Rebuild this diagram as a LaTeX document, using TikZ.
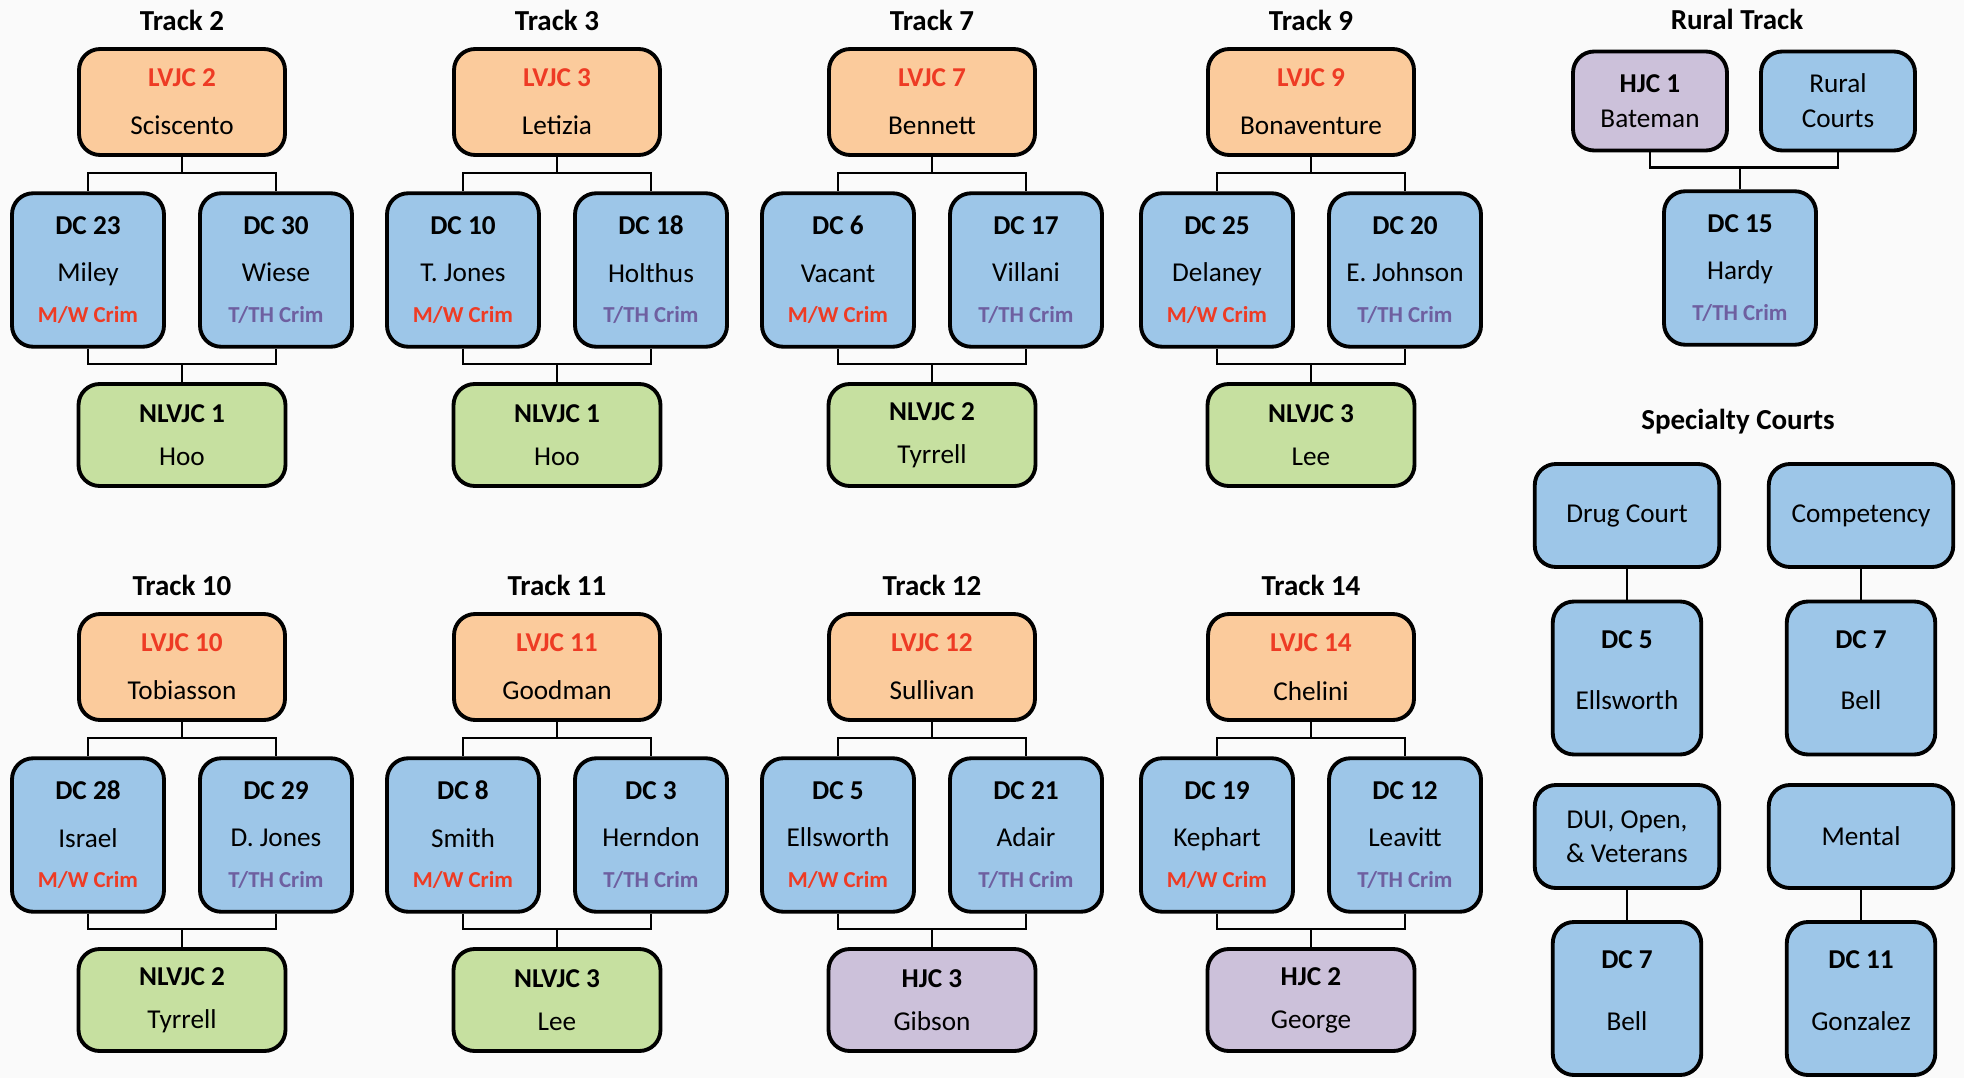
\documentclass[tikz,border=0pt]{standalone}
\usepackage{fontspec}
\setmainfont{Carlito}
\usepackage{xcolor}
\usetikzlibrary{positioning}

\definecolor{lvorange}{HTML}{FBCB9C}
\definecolor{dcblue}{HTML}{9DC6E8}
\definecolor{nlgreen}{HTML}{C6E0A0}
\definecolor{hjpurple}{HTML}{CCC1DA}
\definecolor{mwred}{HTML}{EE3B24}
\definecolor{ttpurple}{HTML}{6E5FA0}
\definecolor{paper}{HTML}{FAFAFA}

\newcommand{\mwcrim}{{\fontsize{13}{13}\selectfont\bfseries\color{mwred}M/W Crim}}
\newcommand{\tthcrim}{{\fontsize{13}{13}\selectfont\bfseries\color{ttpurple}T/TH Crim}}

\begin{document}
\begin{tikzpicture}[x=0.02cm, y=-0.02cm,
  court/.style={draw, line width=2.2pt, rounded corners=12pt, align=center, inner sep=0pt},
  lvjc/.style={court, fill=lvorange, minimum width=4.12cm, minimum height=2.12cm, font=\fontsize{15.5}{27.5}\selectfont},
  dc/.style={court, fill=dcblue, minimum width=3.04cm, minimum height=3.07cm, font=\fontsize{15.5}{27}\selectfont},
  nlvjc/.style={court, minimum width=4.14cm, minimum height=2.04cm, font=\fontsize{15.5}{24.5}\selectfont},
  ruralbox/.style={court, minimum width=3.08cm, minimum height=1.98cm, font=\fontsize{15.5}{20}\selectfont},
  spechead/.style={court, fill=dcblue, minimum width=3.69cm, minimum height=2.06cm, font=\fontsize{15.5}{19.5}\selectfont},
  specdc/.style={court, fill=dcblue, minimum width=2.97cm, minimum height=3.06cm, text depth=9pt, font=\fontsize{15.5}{35}\selectfont},
  tracktitle/.style={font=\fontsize{16.5}{18}\selectfont\bfseries},
  link/.style={line width=1.3pt}]

% page
\fill[paper] (0,0) rectangle (1964,1078);
\useasboundingbox (0,0) rectangle (1964,1078);

% Tracks
\foreach \tx/\ty/\tn/\lvname/\da/\daname/\db/\dbname/\bfill/\botid/\botname in {
  182/0/2/Sciscento/23/Miley/30/Wiese/nlgreen/NLVJC 1/Hoo,
  557/0/3/Letizia/10/T. Jones/18/Holthus/nlgreen/NLVJC 1/Hoo,
  932/0/7/Bennett/6/Vacant/17/Villani/nlgreen/NLVJC 2/Tyrrell,
  1311/0/9/Bonaventure/25/Delaney/20/E. Johnson/nlgreen/NLVJC 3/Lee,
  182/565/10/Tobiasson/28/Israel/29/D. Jones/nlgreen/NLVJC 2/Tyrrell,
  557/565/11/Goodman/8/Smith/3/Herndon/nlgreen/NLVJC 3/Lee,
  932/565/12/Sullivan/5/Ellsworth/21/Adair/hjpurple/HJC 3/Gibson,
  1311/565/14/Chelini/19/Kephart/12/Leavitt/hjpurple/HJC 2/George}
{
  \node[tracktitle] (title\tn) at (\tx, \ty+20) {Track \tn};
  \node[lvjc] (lv\tn) at (\tx, \ty+102) {{\bfseries\color{mwred}LVJC \tn}\\\lvname};
  \node[dc] (dcl\tn) at (\tx-94, \ty+270) {\textbf{DC \da}\\\daname\\[-4pt]\mwcrim};
  \node[dc] (dcr\tn) at (\tx+94, \ty+270) {\textbf{DC \db}\\\dbname\\[-4pt]\tthcrim};
  \node[nlvjc, fill=\bfill] (bot\tn) at (\tx, \ty+435) {\textbf{\botid}\\\botname};
  \draw[link] (lv\tn.south) -- ++(0,16) coordinate (top\tn) -| (dcl\tn.north);
  \draw[link] (top\tn) -| (dcr\tn.north);
  \draw[link] (dcl\tn.south) -- ++(0,15) coordinate (mid\tn) -| (dcr\tn.south);
  \draw[link] (bot\tn.north) -- (bot\tn.north |- mid\tn);
}

% Rural track
\node[tracktitle] (ruraltitle) at (1737,19) {Rural Track};
\node[ruralbox, fill=hjpurple] (hjc1) at (1650,101) {\textbf{HJC 1}\\Bateman};
\node[ruralbox, fill=dcblue] (rural) at (1838,101) {Rural\\Courts};
\node[dc] (dc15) at (1740,268) {\textbf{DC 15}\\Hardy\\[-4pt]\tthcrim};
\draw[link] (hjc1.south) -- ++(0,15) coordinate (ruralmid) -| (rural.south);
\draw[link] (dc15.north) -- (dc15.north |- ruralmid);

% Specialty courts
\node[tracktitle] (spectitle) at (1738,422) {Specialty Courts};
\node[spechead] (drug) at (1627,515.5) {Drug Court};
\node[spechead] (comp) at (1861,515.5) {Competency};
\node[specdc] (dcfive) at (1627,678) {\textbf{DC 5}\\Ellsworth};
\node[specdc] (dcseven) at (1861,678) {\textbf{DC 7}\\Bell};
\node[spechead] (dui) at (1627,836.5) {DUI, Open,\\\& Veterans};
\node[spechead] (mental) at (1861,836.5) {Mental};
\node[specdc] (dcsevenb) at (1627,998.5) {\textbf{DC 7}\\Bell};
\node[specdc] (dceleven) at (1861,998.5) {\textbf{DC 11}\\Gonzalez};
\draw[link] (drug) -- (dcfive);
\draw[link] (comp) -- (dcseven);
\draw[link] (dui) -- (dcsevenb);
\draw[link] (mental) -- (dceleven);
\end{tikzpicture}
\end{document}
